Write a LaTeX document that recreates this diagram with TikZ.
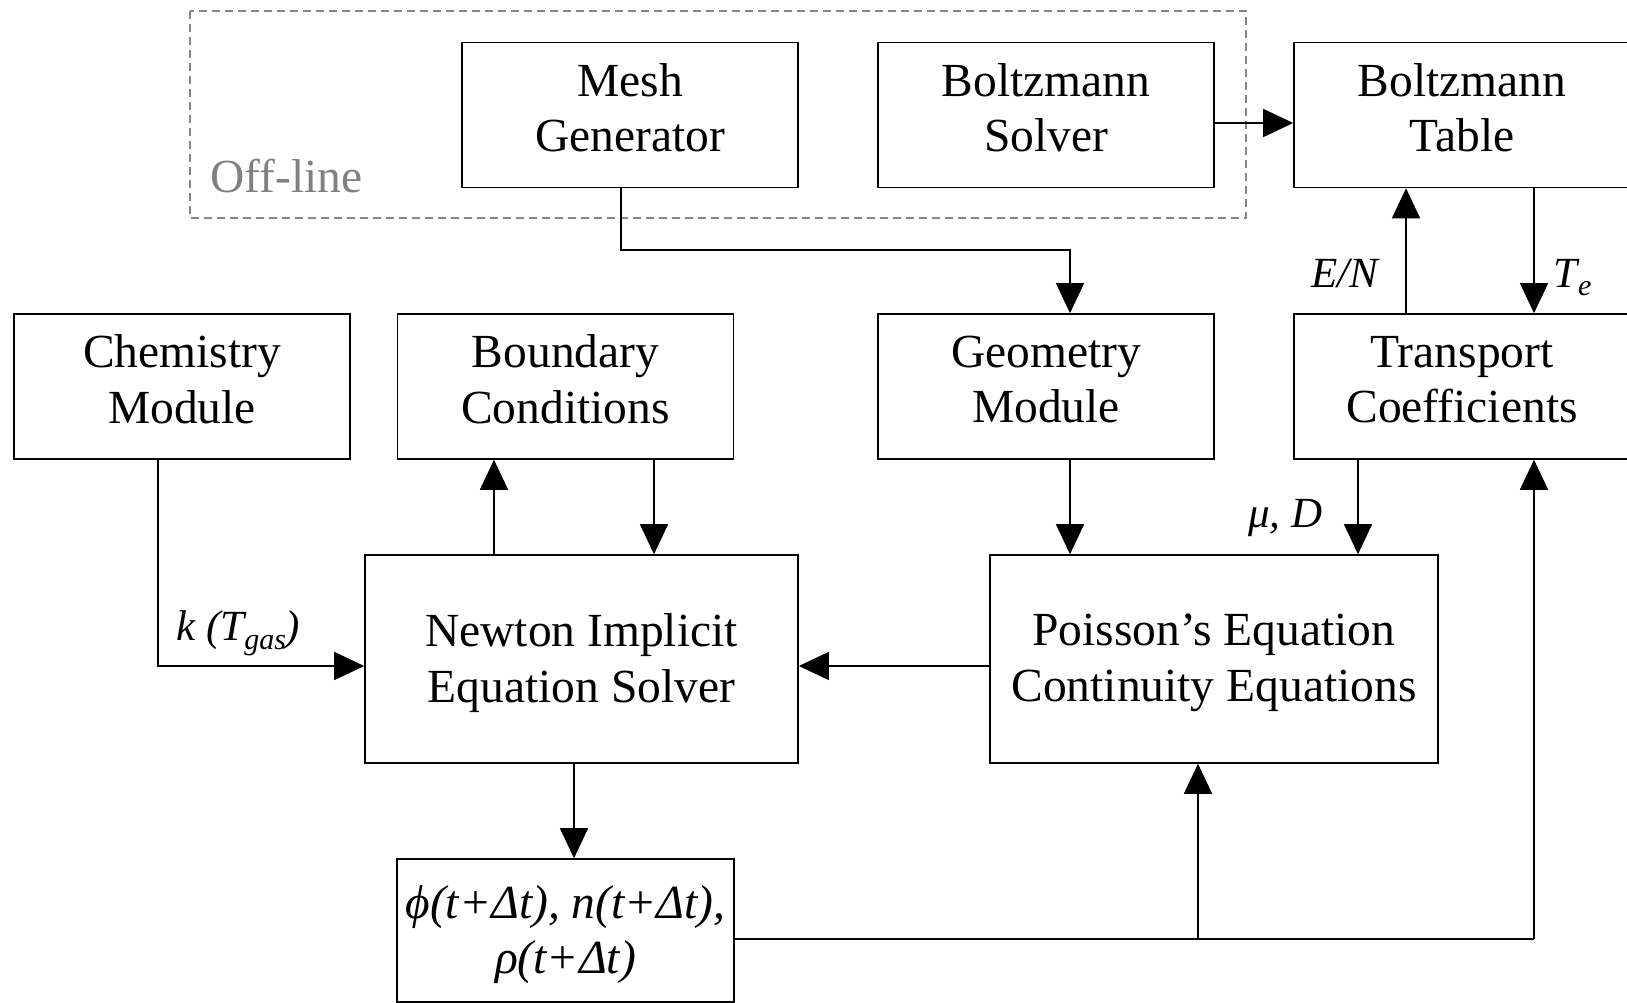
\documentclass[tikz,border=0pt]{standalone}
\usepackage{fontspec}
\setmainfont{Liberation Serif}
\usetikzlibrary{arrows.meta}
\begin{document}
\begin{tikzpicture}[x=1pt,y=-1pt,
  frame/.style={draw=black,line width=1.6pt,rectangle,inner sep=0pt},
  small/.style={frame,minimum width=336pt,minimum height=145pt},
  txt/.style={inner sep=0pt,align=center,font=\fontsize{47.5}{55.5}\selectfont},
  arr/.style={line width=1.6pt,-{Triangle[length=30pt,width=28pt]}},
  plain/.style={line width=1.6pt},
  lbl/.style={inner sep=0pt,font=\fontsize{43}{48}\selectfont\itshape}]
\useasboundingbox (0,0) rectangle (1627,1003);
% off-line region
\draw[gray!95,line width=1.5pt,dash pattern=on 8pt off 5pt] (190,11) rectangle (1246,218);
\node[anchor=base west,inner sep=0pt,text=gray,font=\fontsize{47.5}{55}\selectfont] (offl) at (210,193) {Off-line};
% boxes
\node[small] (mesh) at (630,115) {};
\node[small] (bsolv) at (1046,115) {};
\node[small] (btab) at (1462,115) {};
\node[small] (chem) at (182,386.5) {};
\node[small] (bound) at (565.5,386.5) {};
\node[small] (geom) at (1046,386.5) {};
\node[small] (trans) at (1462,386.5) {};
\node[frame,minimum width=433pt,minimum height=208pt] (newton) at (581.5,659) {};
\node[frame,minimum width=448pt,minimum height=208pt] (poisson) at (1214,659) {};
\node[frame,minimum width=337pt,minimum height=143pt] (phi) at (565.5,930.5) {};
% box texts
\node[txt] (mesht) at ([yshift=7pt]mesh.center) {Mesh\\Generator};
\node[txt] (bsolvt) at ([yshift=7pt]bsolv.center) {Boltzmann\\Solver};
\node[txt] (btabt) at ([yshift=7pt]btab.center) {Boltzmann\\Table};
\node[txt] (chemt) at ([yshift=7pt]chem.center) {Chemistry\\Module};
\node[txt] (boundt) at ([yshift=7pt]bound.center) {Boundary\\Conditions};
\node[txt] (geomt) at ([yshift=7pt]geom.center) {Geometry\\Module};
\node[txt] (transt) at ([yshift=7pt]trans.center) {Transport\\Coefficients};
\node[txt] (newtont) at ([yshift=-4pt]newton.center) {Newton Implicit\\Equation Solver};
\node[txt] (poissont) at ([yshift=-4pt]poisson.center) {Poisson’s Equation\\Continuity Equations};
\node[txt,font=\fontsize{47.5}{55.5}\selectfont\itshape] (phit) at ([yshift=-4pt]phi.center) {ϕ(t+Δt), n(t+Δt),\\ρ(t+Δt)};
% connectors
\coordinate (mg) at (1070,250);
\draw[arr] (621,0 |- mesh.south) |- (mg) -- (mg |- geom.north);
\draw[arr] ([yshift=-8pt]bsolv.east) -- ([yshift=-8pt]btab.west);
\draw[arr] (1406,0 |- trans.north) -- (1406,0 |- btab.south);
\draw[arr] (1534,0 |- btab.south) -- (1534,0 |- trans.north);
\coordinate (ck) at (158,666);
\draw[arr] (ck |- chem.south) -- (ck) -- (ck -| newton.west);
\draw[arr] (494,0 |- newton.north) -- (494,0 |- bound.south);
\draw[arr] (654,0 |- bound.south) -- (654,0 |- newton.north);
\draw[arr] (1070,0 |- geom.south) -- (1070,0 |- poisson.north);
\draw[arr] (1358,0 |- trans.south) -- (1358,0 |- poisson.north);
\draw[arr] (poisson.west |- ck) -- (newton.east |- ck);
\draw[arr] (574,0 |- newton.south) -- (574,0 |- phi.north);
\coordinate (pj) at (1198,939);
\coordinate (pt) at (1534,939);
\draw[plain] (phi.east |- pj) -- (pt);
\draw[arr] (pj) -- (pj |- poisson.south);
\draw[arr] (pt) -- (pt |- trans.south);
% labels
\node[lbl,anchor=base west] (lEN) at (1311,287) {E/N};
\node[lbl,anchor=base west] (lTe) at (1553,287) {T\kern1pt\raisebox{-8pt}{\fontsize{30}{32}\selectfont e}};
\node[lbl,anchor=base west] (lmu) at (1248,527) {μ, D};
\node[lbl,anchor=base west] (lk) at (176,640) {k (T\raisebox{-9pt}{\fontsize{30}{32}\selectfont gas})};
\end{tikzpicture}
\end{document}
